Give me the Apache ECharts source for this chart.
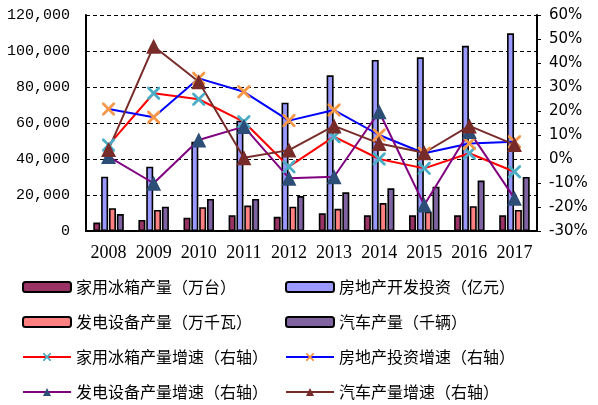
<!DOCTYPE html>
<html>
<head>
<meta charset="utf-8">
<script src="https://cdn.jsdelivr.net/npm/echarts@6/dist/echarts.min.js"></script>
<style>
  html, body { margin: 0; padding: 0; background: #fff; }
  #chart { width: 598px; height: 405px; }
</style>
</head>
<body>
<div id="chart"></div>
<script>
var years = ["2008", "2009", "2010", "2011", "2012", "2013", "2014", "2015", "2016", "2017"];

// 柱：左轴
var fridge = [4700, 6100, 7400, 8700, 7900, 9800, 8700, 8700, 8700, 8700];
var realEstate = [30200, 35700, 49600, 61300, 71300, 86500, 95000, 96500, 102900, 109800];
var power = [12700, 11700, 13200, 14100, 13500, 12300, 15500, 10700, 13800, 11700];
var cars = [9400, 13500, 17800, 17800, 19400, 21500, 23700, 24600, 28000, 30000];

// 线：右轴 (%)
var fridgeRate = [5.8, 27.4, 24.9, 15.5, -3.2, 9.3, 0.0, -3.9, 2.4, -5.3];
var estateRate = [20.8, 17.4, 33.6, 28.0, 16.0, 20.4, 10.0, 2.4, 6.5, 7.2];
var powerRate = [1.0, -10.1, 7.9, 13.5, -8.0, -7.4, 19.7, -19.2, 11.5, -16.4];
var carRate = [4.0, 47.0, 32.2, 0.5, 3.7, 13.8, 6.5, 2.6, 13.8, 6.0];

var leftTicks = { min: 0, max: 120000, interval: 20000 };
var rightTicks = { min: -30, max: 60, interval: 10 };

var cross = "path://M0,0 L3,0 L10,7 L17,0 L20,0 L20,3 L13,10 L20,17 L20,20 L17,20 L10,13 L3,20 L0,20 L0,17 L7,10 L0,3 Z";

var chart = echarts.init(document.getElementById("chart"));

function bar(name, data, color) {
  return {
    name: name,
    type: "bar",
    data: data,
    barWidth: 7,
    barGap: "12%",
    itemStyle: { color: color, borderColor: "#000", borderWidth: 1.6 }
  };
}

function line(name, data, color, symbol, symColor, size) {
  return {
    name: name,
    type: "line",
    yAxisIndex: 1,
    data: data,
    symbol: symbol,
    symbolSize: size,
    lineStyle: { color: color, width: 2 },
    itemStyle: { color: symColor },
    z: 5
  };
}

var legendText = { fontFamily: "Noto Sans CJK SC", fontSize: 16, color: "#000" };

function legendCol(x, names) {
  return {
    orient: "vertical",
    left: x,
    top: 279,
    height: 150,
    padding: 0,
    itemWidth: 48,
    itemHeight: 10,
    itemGap: 19,
    textStyle: legendText,
    data: names
  };
}

chart.setOption({
  animation: false,
  grid: { left: 86, right: 61, top: 15, bottom: 174 },
  legend: [
    legendCol(22, ["家用冰箱产量（万台）", "发电设备产量（万千瓦）", "家用冰箱产量增速（右轴）", "发电设备产量增速（右轴）"]),
    legendCol(285, ["房地产开发投资（亿元）", "汽车产量（千辆）", "房地产投资增速（右轴）", "汽车产量增速（右轴）"])
  ],
  xAxis: {
    type: "category",
    data: years,
    axisLine: { lineStyle: { color: "#000", width: 2 } },
    axisTick: { inside: true, length: 3, lineStyle: { color: "#000" } },
    axisLabel: { interval: 0, hideOverlap: false, fontFamily: "Liberation Serif", fontSize: 18, color: "#000", margin: 13 }
  },
  yAxis: [
    {
      type: "value",
      min: leftTicks.min,
      max: leftTicks.max,
      interval: leftTicks.interval,
      axisLine: { show: true, lineStyle: { color: "#000", width: 2 } },
      axisTick: { show: false },
      splitLine: { lineStyle: { color: "#000", type: [4, 3], width: 1 } },
      axisLabel: {
        fontFamily: "Liberation Mono", fontSize: 15, color: "#000", margin: 16,
        formatter: function (v) { return v.toLocaleString("en-US"); }
      }
    },
    {
      type: "value",
      min: rightTicks.min,
      max: rightTicks.max,
      interval: rightTicks.interval,
      axisLine: { show: true, lineStyle: { color: "#000", width: 2 } },
      axisTick: { show: true, length: 4, lineStyle: { color: "#000" } },
      splitLine: { show: false },
      axisLabel: {
        fontFamily: "DejaVu Sans", fontSize: 15, color: "#000", margin: 12,
        formatter: "{value}%"
      }
    }
  ],
  series: [
    bar("家用冰箱产量（万台）", fridge, "#993366"),
    bar("房地产开发投资（亿元）", realEstate, "#9999FF"),
    bar("发电设备产量（万千瓦）", power, "#FF8080"),
    bar("汽车产量（千辆）", cars, "#8064A2"),
    line("家用冰箱产量增速（右轴）", fridgeRate, "#FF0000", cross, "#4BACC6", 13),
    line("房地产投资增速（右轴）", estateRate, "#0000FF", cross, "#F79646", 13),
    line("发电设备产量增速（右轴）", powerRate, "#800080", "triangle", "#2C4D75", 15),
    line("汽车产量增速（右轴）", carRate, "#772C2A", "triangle", "#772C2A", 15)
  ]
});
</script>
</body>
</html>
